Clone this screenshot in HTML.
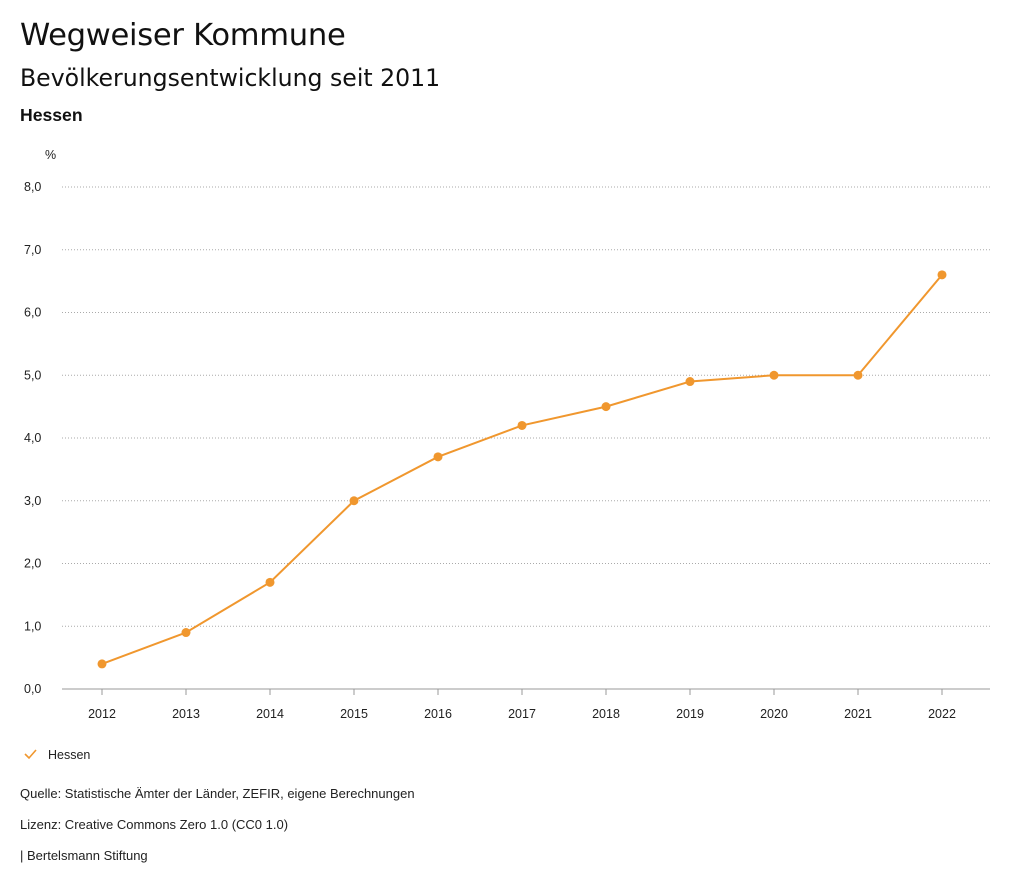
<!DOCTYPE html>
<html><head><meta charset="utf-8"><style>
body{margin:0;background:#fff;width:1024px;height:888px;overflow:hidden;font-family:"Liberation Sans",sans-serif;color:#111}
.t{position:absolute;left:20px;white-space:nowrap}
</style></head><body>
<div class="t" style="top:18px;font-size:30.6px;font-family:'DejaVu Sans',sans-serif;letter-spacing:-0.3px">Wegweiser Kommune</div>
<div class="t" style="top:64px;font-size:23.6px;font-family:'DejaVu Sans',sans-serif">Bevölkerungsentwicklung seit 2011</div>
<div class="t" style="top:105px;font-size:17.6px;font-weight:bold">Hessen</div>
<svg width="1024" height="888" style="position:absolute;left:0;top:0">
<g id="grid"></g><g id="axes"></g><g id="series"></g>
<g>
<polyline points="25,754 29,758 36,750" fill="none" stroke="#f0972e" stroke-width="1.6"/>
<text x="48" y="759" font-size="12.5" fill="#222">Hessen</text></g>
<text x="20" y="798" font-size="13" fill="#222">Quelle: Statistische Ämter der Länder, ZEFIR, eigene Berechnungen</text>
<text x="20" y="829" font-size="13" fill="#222">Lizenz: Creative Commons Zero 1.0 (CC0 1.0)</text>
<text x="20" y="860" font-size="13" fill="#222">| Bertelsmann Stiftung</text>
</svg>
<script>
const years=[2012,2013,2014,2015,2016,2017,2018,2019,2020,2021,2022];
const values=[0.4,0.9,1.7,3.0,3.7,4.2,4.5,4.9,5.0,5.0,6.6];
const yTicks=[0,1,2,3,4,5,6,7,8];
const NS="http://www.w3.org/2000/svg";
const x=i=>102+i*84;
const y=v=>689-v*62.75;
function mk(p,t,a){const e=document.createElementNS(NS,t);for(const k in a)e.setAttribute(k,a[k]);p.appendChild(e);return e;}
const g=document.getElementById('grid'),ax=document.getElementById('axes'),s=document.getElementById('series');
yTicks.forEach(v=>{
 const l=mk(g,'line',{x1:62,x2:990,y1:y(v),y2:y(v),stroke:v===0?'#999':'#aaa','stroke-dasharray':v===0?'':'1,2'});
 
 
 const t=mk(ax,'text',{x:24,y:y(v)+4,'font-size':12.5,fill:'#222'});
 t.textContent=v.toFixed(1).replace('.',',');
 
 
});
const u=mk(ax,'text',{x:45,y:159,'font-size':12.5,fill:'#222'});u.textContent='%';


years.forEach((yr,i)=>{
 mk(ax,'line',{x1:x(i),x2:x(i),y1:689,y2:695,stroke:'#999'});
 const t=mk(ax,'text',{x:x(i),y:718,'font-size':12.5,fill:'#222','text-anchor':'middle'});
 t.textContent=yr;
 
 
});
const pl=mk(s,'polyline',{points:values.map((v,i)=>x(i)+','+y(v)).join(' '),fill:'none',stroke:'#f0972e','stroke-width':2});


values.forEach((v,i)=>{
 const c=mk(s,'circle',{cx:x(i),cy:y(v),r:4.5,fill:'#f0972e'});
 
 
});
</script>
</body></html>
